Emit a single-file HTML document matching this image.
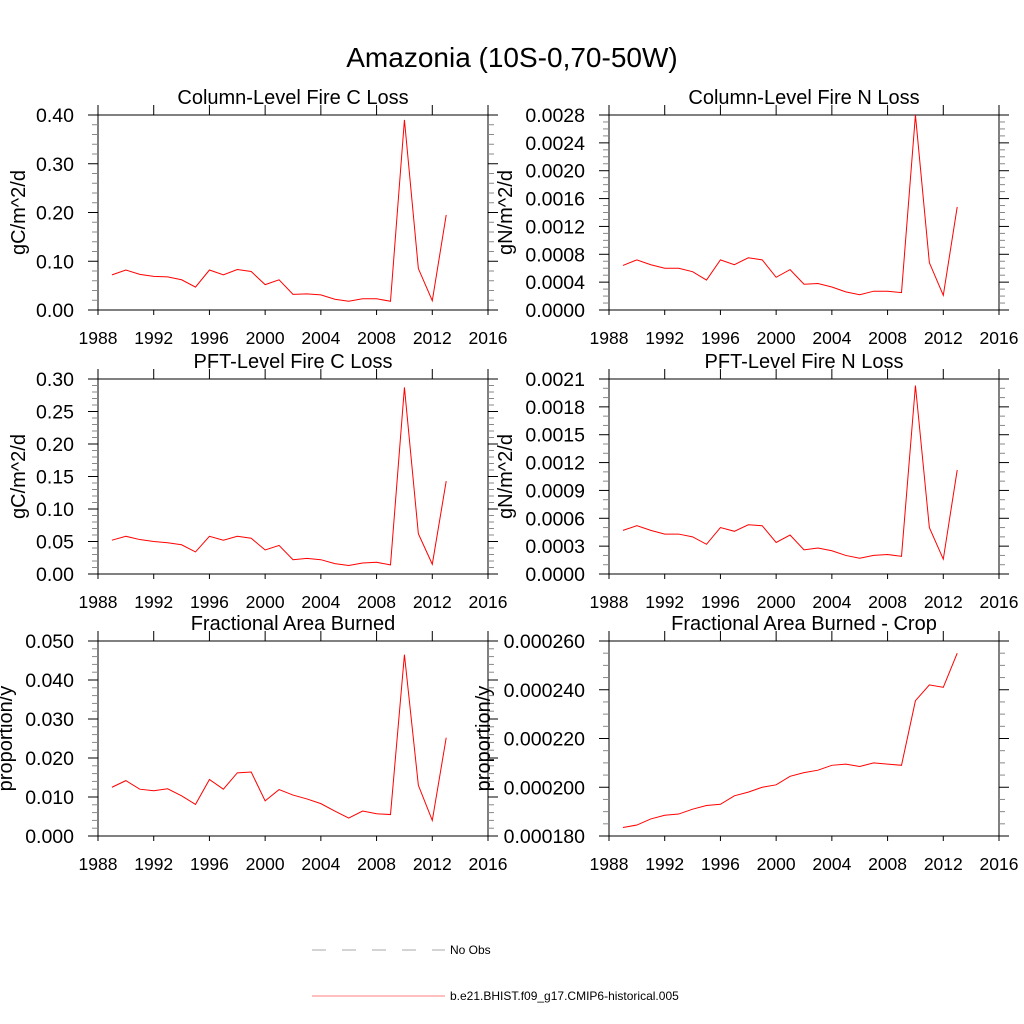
<!DOCTYPE html>
<html><head><meta charset="utf-8"><style>
body{margin:0;background:#fff;}
svg{display:block;font-family:"Liberation Sans",sans-serif;}
</style></head><body>
<svg id="chart" width="1024" height="1024" viewBox="0 0 1024 1024">
<text x="512" y="67" font-size="28" text-anchor="middle">Amazonia (10S-0,70-50W)</text>
<g>
<line x1="312" y1="950" x2="445" y2="950" stroke="#555" stroke-width="0.6" stroke-dasharray="14,16"/>
<text x="450" y="954" font-size="12">No Obs</text>
<line x1="312" y1="996" x2="445" y2="996" stroke="red" stroke-width="0.6"/>
<text x="450" y="1000" font-size="12">b.e21.BHIST.f09_g17.CMIP6-historical.005</text>
</g>
</svg>
<script>
const years=[1989,1990,1991,1992,1993,1994,1995,1996,1997,1998,1999,2000,2001,2002,2003,2004,2005,2006,2007,2008,2009,2010,2011,2012,2013];
const xTicks=[1988,1992,1996,2000,2004,2008,2012,2016];
const colCLoss=[0.072,0.082,0.073,0.069,0.068,0.062,0.047,0.082,0.072,0.083,0.079,0.052,0.062,0.032,0.033,0.031,0.022,0.018,0.023,0.023,0.018,0.39,0.085,0.019,0.195];
const colNLoss=[0.00064,0.00072,0.00065,0.0006,0.0006,0.00055,0.00043,0.00072,0.00065,0.00075,0.00072,0.00047,0.00058,0.00037,0.00038,0.00033,0.00026,0.00022,0.00027,0.00027,0.00025,0.0028,0.00068,0.00021,0.00148];
const pftCLoss=[0.052,0.058,0.053,0.05,0.048,0.045,0.034,0.058,0.052,0.058,0.055,0.037,0.044,0.022,0.024,0.022,0.016,0.013,0.017,0.018,0.014,0.287,0.062,0.015,0.143];
const pftNLoss=[0.00047,0.00052,0.00047,0.00043,0.00043,0.0004,0.00032,0.0005,0.00046,0.00053,0.00052,0.00034,0.00042,0.00026,0.00028,0.00025,0.0002,0.00017,0.0002,0.00021,0.00019,0.00203,0.0005,0.00016,0.00112];
const fracBurn=[0.0125,0.0142,0.012,0.0116,0.0121,0.0103,0.0081,0.0145,0.012,0.0162,0.0164,0.009,0.0119,0.0105,0.0095,0.0083,0.0064,0.0046,0.0064,0.0057,0.0055,0.0465,0.013,0.004,0.0252];
const fracBurnCrop=[0.0001835,0.0001845,0.000187,0.0001885,0.000189,0.000191,0.0001925,0.000193,0.0001965,0.000198,0.0002,0.000201,0.0002045,0.000206,0.000207,0.000209,0.0002095,0.0002085,0.00021,0.0002095,0.000209,0.0002355,0.000242,0.000241,0.000255];
const yTicks1=["0.00","0.10","0.20","0.30","0.40"];
const yTicks2=["0.0000","0.0004","0.0008","0.0012","0.0016","0.0020","0.0024","0.0028"];
const yTicks3=["0.00","0.05","0.10","0.15","0.20","0.25","0.30"];
const yTicks4=["0.0000","0.0003","0.0006","0.0009","0.0012","0.0015","0.0018","0.0021"];
const yTicks5=["0.000","0.010","0.020","0.030","0.040","0.050"];
const yTicks6=["0.000180","0.000200","0.000220","0.000240","0.000260"];
const NS="http://www.w3.org/2000/svg";
const svg=document.getElementById('chart');
function mk(tag,attrs,parent){const e=document.createElementNS(NS,tag);for(const k in attrs)e.setAttribute(k,attrs[k]);parent.appendChild(e);return e;}
const panels=[
 {name:"column-c-loss",title:"Column-Level Fire C Loss",yl:"gC/m^2/d",data:colCLoss,ticks:yTicks1,minor:5,x:98,y:115,ylx:18},
 {name:"column-n-loss",title:"Column-Level Fire N Loss",yl:"gN/m^2/d",data:colNLoss,ticks:yTicks2,minor:4,x:609,y:115,ylx:505},
 {name:"pft-c-loss",title:"PFT-Level Fire C Loss",yl:"gC/m^2/d",data:pftCLoss,ticks:yTicks3,minor:5,x:98,y:379,ylx:18},
 {name:"pft-n-loss",title:"PFT-Level Fire N Loss",yl:"gN/m^2/d",data:pftNLoss,ticks:yTicks4,minor:3,x:609,y:379,ylx:505},
 {name:"fractional-area-burned",title:"Fractional Area Burned",yl:"proportion/y",data:fracBurn,ticks:yTicks5,minor:5,x:98,y:641,ylx:5},
 {name:"fractional-area-burned-crop",title:"Fractional Area Burned - Crop",yl:"proportion/y",data:fracBurnCrop,ticks:yTicks6,minor:4,x:609,y:641,ylx:483}
];
const W=390,H=195;
panels.forEach(p=>{
 const g=mk('g',{},svg);
 
 
 const y0=parseFloat(p.ticks[0]),y1=parseFloat(p.ticks[p.ticks.length-1]);
 const xs=v=>p.x+(v-1988)/(2016-1988)*W;
 const ys=v=>p.y+H-(v-y0)/(y1-y0)*H;
 const box=mk('rect',{x:p.x,y:p.y,width:W,height:H,fill:'none',stroke:'#000','stroke-width':1},g);
 
 
 xTicks.forEach(t=>{
  const X=xs(t);
  mk('line',{x1:X,y1:p.y+H,x2:X,y2:p.y+H+5,stroke:'#000','stroke-width':1},g);
  mk('line',{x1:X,y1:p.y,x2:X,y2:p.y-10,stroke:'#000','stroke-width':1},g);
  const tx=mk('text',{x:X,y:p.y+H+34,'font-size':17.5,'text-anchor':'middle'},g);
  tx.textContent=t;
  
  
 });
 const n=p.ticks.length-1;
 for(let i=0;i<n*p.minor+1;i++){
  const Y=p.y+H-i/(n*p.minor)*H;const major=i%p.minor===0;const L=major?10:6;
  mk('line',{x1:p.x,y1:Y,x2:p.x-L,y2:Y,stroke:major?'#000':'#888','stroke-width':1},g);
  mk('line',{x1:p.x+W,y1:Y,x2:p.x+W+L,y2:Y,stroke:major?'#000':'#888','stroke-width':1},g);
 }
 p.ticks.forEach(t=>{
  const tx=mk('text',{x:p.x-24,y:ys(parseFloat(t))+7,'font-size':19.5,'text-anchor':'end'},g);
  tx.textContent=t;
  
  
 });
 const tt=mk('text',{x:p.x+W/2,y:p.y-11,'font-size':20,'text-anchor':'middle'},g);
 tt.textContent=p.title;
 
 
 const yl=mk('text',{x:0,y:7,'font-size':20,'text-anchor':'middle',transform:`translate(${p.ylx},${p.y+H/2}) rotate(-90)`},g);
 yl.textContent=p.yl;
 
 
 const pts=years.map((yr,i)=>xs(yr).toFixed(2)+','+ys(p.data[i]).toFixed(2)).join(' ');
 const line=mk('polyline',{points:pts,fill:'none',stroke:'red','stroke-width':1},g);
 
 
});
</script>
</body></html>
